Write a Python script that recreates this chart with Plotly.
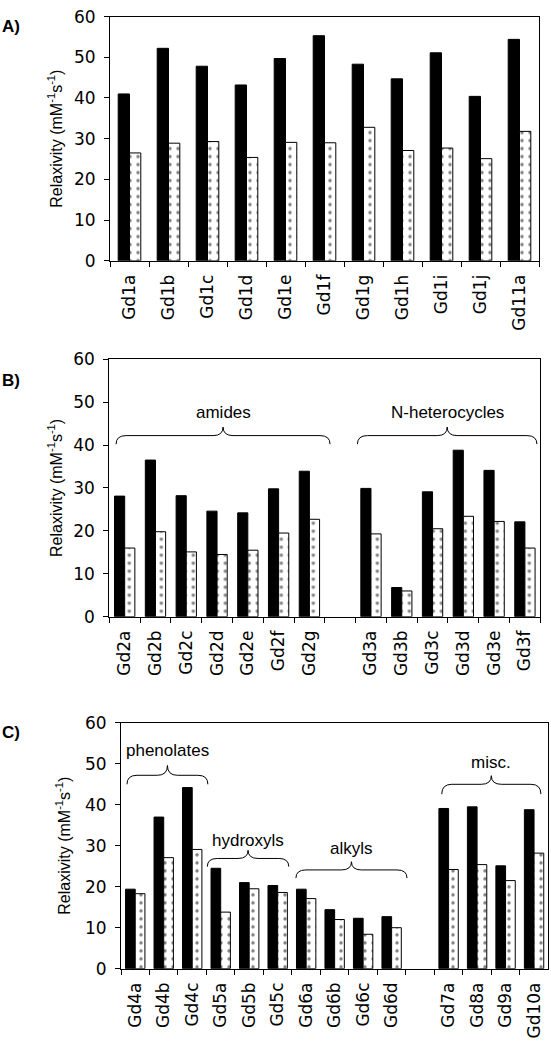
import plotly.graph_objects as go

# ---------------- data ----------------
cats_a = ["Gd1a", "Gd1b", "Gd1c", "Gd1d", "Gd1e", "Gd1f", "Gd1g", "Gd1h", "Gd1i", "Gd1j", "Gd11a"]
black_a = [41.0, 52.2, 47.8, 43.2, 49.7, 55.3, 48.3, 44.7, 51.1, 40.4, 54.4]
dot_a = [26.5, 28.9, 29.3, 25.4, 29.1, 29.0, 32.8, 27.1, 27.7, 25.1, 31.8]

cats_b = ["Gd2a", "Gd2b", "Gd2c", "Gd2d", "Gd2e", "Gd2f", "Gd2g", " ",
          "Gd3a", "Gd3b", "Gd3c", "Gd3d", "Gd3e", "Gd3f"]
black_b = [28.1, 36.5, 28.2, 24.6, 24.2, 29.8, 33.9, None, 29.9, 6.8, 29.1, 38.8, 34.1, 22.1]
dot_b = [16.0, 19.8, 15.1, 14.5, 15.5, 19.5, 22.7, None, 19.3, 6.0, 20.5, 23.4, 22.2, 16.0]

cats_c = ["Gd4a", "Gd4b", "Gd4c", "Gd5a", "Gd5b", "Gd5c", "Gd6a", "Gd6b", "Gd6c", "Gd6d", "  ",
          "Gd7a", "Gd8a", "Gd9a", "Gd10a"]
black_c = [19.4, 37.0, 44.2, 24.5, 21.0, 20.3, 19.4, 14.4, 12.3, 12.7, None, 39.1, 39.5, 25.1, 38.8]
dot_c = [18.3, 27.1, 29.1, 13.8, 19.5, 18.6, 17.1, 12.0, 8.4, 10.0, None, 24.2, 25.4, 21.5, 28.2]

# group labels: (text, first category index, last category index)
groups_b = [("amides", 0, 6), ("N-heterocycles", 8, 13)]
groups_c = [("phenolates", 0, 2), ("hydroxyls", 3, 5), ("alkyls", 6, 9), ("misc.", 11, 14)]

# ---------------- layout geometry (pixels) ----------------
W, H = 551, 1049
panels = {
    "a": dict(x0=110, x1=539, y0=6.7, y1=255.7, w=0.29),
    "b": dict(x0=109.3, x1=540.3, y0=356, y1=618.5, w=0.33),
    "c": dict(x0=121, x1=548.3, y0=726.7, y1=977.3, w=0.34),
}
# brace styling per group: (x start offset, x end offset in categories, y_end, y_flat, y_tip, text_y)
brace_b = [(-0.28, 0.67, 40.2, 42.2, 44.2, 47.5), (-0.44, 0.39, 40.2, 42.2, 44.2, 47.5)]
brace_c = [(-0.29, 0.55, 45.0, 47.2, 49.6, 53.2), (-0.47, 0.39, 24.9, 26.9, 28.9, 31.4),
           (-0.36, 0.54, 22.1, 24.1, 26.1, 29.3), (-0.24, 0.24, 42.6, 45.0, 47.1, 50.3)]

TICKFONT = "DejaVu Sans"
TEXTFONT = "Liberation Sans"

fig = go.Figure()

def add_panel(key, idx, cats, blk, dts):
    p = panels[key]
    w = p["w"]
    xa = "x" if idx == 1 else f"x{idx}"
    ya = "y" if idx == 1 else f"y{idx}"
    fig.add_trace(go.Bar(x=cats, y=blk, xaxis=xa, yaxis=ya, width=w, offset=-w,
                         marker=dict(color="black", line=dict(color="black", width=1)),
                         showlegend=False, hoverinfo="skip"))
    fig.add_trace(go.Bar(x=cats, y=dts, xaxis=xa, yaxis=ya, width=w, offset=0,
                         marker=dict(color="white", line=dict(color="black", width=1),
                                     pattern=dict(shape=".", fgcolor="black", bgcolor="white",
                                                  size=8, solidity=0.14)),
                         showlegend=False, hoverinfo="skip"))
    suffix = "" if idx == 1 else str(idx)
    fig.layout["xaxis" + suffix] = dict(
        domain=[p["x0"] / W, p["x1"] / W], anchor=ya, type="category",
        categoryorder="array", categoryarray=cats,
        showline=True, linecolor="black", linewidth=1, mirror=True,
        ticks="outside", tickson="boundaries", ticklen=5, tickcolor="black",
        tickangle=-90, tickfont=dict(family=TICKFONT, size=17, color="black"),
        ticklabelstandoff=6, showgrid=False, zeroline=False, fixedrange=True)
    fig.layout["yaxis" + suffix] = dict(
        domain=[1 - p["y1"] / H, 1 - p["y0"] / H], anchor=xa, range=[0, 60], dtick=10,
        showline=True, linecolor="black", linewidth=1, mirror=True,
        ticks="outside", ticklen=5, tickcolor="black",
        tickfont=dict(family=TICKFONT, size=17, color="black"),
        ticklabelstandoff=5, showgrid=False, zeroline=False, fixedrange=True)
    return xa, ya, len(cats)

def add_braces(xa, ya, ncat, key, groups, styles):
    p = panels[key]
    pw = p["x1"] - p["x0"]
    r = 10.0 / pw
    for (text, i0, i1), (o0, o1, ye, yf, yt, ty) in zip(groups, styles):
        x0 = (i0 + o0 + 0.5) / ncat
        x1 = (i1 + o1 + 0.5) / ncat
        xm = (x0 + x1) / 2
        path = (f"M{x0},{ye} Q{x0},{yf} {x0 + r},{yf} L{xm - r},{yf} "
                f"Q{xm},{yf} {xm},{yt} Q{xm},{yf} {xm + r},{yf} "
                f"L{x1 - r},{yf} Q{x1},{yf} {x1},{ye}")
        fig.add_shape(type="path", path=path, xref=xa + " domain", yref=ya,
                      line=dict(color="black", width=1))
        fig.add_annotation(text=text, x=xm, y=ty, xref=xa + " domain", yref=ya,
                           showarrow=False, xanchor="center", yanchor="middle",
                           font=dict(family=TEXTFONT, size=17, color="black"))

add_panel("a", 1, cats_a, black_a, dot_a)
xb, yb, nb = add_panel("b", 2, cats_b, black_b, dot_b)
xc, yc, nc = add_panel("c", 3, cats_c, black_c, dot_c)
add_braces(xb, yb, nb, "b", groups_b, brace_b)
add_braces(xc, yc, nc, "c", groups_c, brace_c)

# y axis titles and panel labels
ytitle = "Relaxivity (mM<sup>-1</sup>s<sup>-1</sup>)"
for key, tx, lab, ly in [("a", 55, "A)", 17), ("b", 55, "B)", 377.5), ("c", 63, "C)", 736.7)]:
    p = panels[key]
    fig.add_annotation(text=ytitle, x=tx / W, y=1 - (p["y0"] + p["y1"]) / 2 / H,
                       xref="paper", yref="paper", showarrow=False, textangle=-90,
                       xanchor="center", yanchor="middle",
                       font=dict(family=TEXTFONT, size=16, color="black"))
    fig.add_annotation(text="<b>" + lab + "</b>", x=0, y=1 - ly / H, xref="paper", yref="paper",
                       showarrow=False, xanchor="left", yanchor="middle",
                       font=dict(family=TEXTFONT, size=17, color="black"))

fig.update_layout(width=W, height=H, margin=dict(l=0, r=0, t=0, b=0),
                  paper_bgcolor="white", plot_bgcolor="white", barmode="overlay",
                  showlegend=False)

fig.write_html("out.html", config={"displayModeBar": False},
               post_script="document.body.style.margin='0px';")
